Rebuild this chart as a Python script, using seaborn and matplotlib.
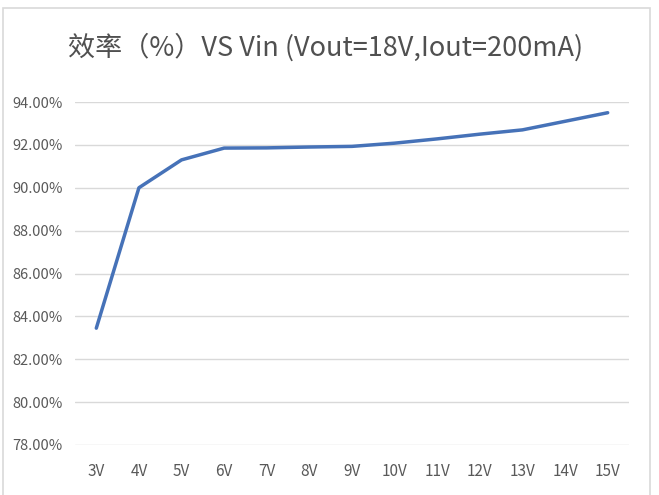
import matplotlib
matplotlib.use("Agg")
import matplotlib.pyplot as plt
from matplotlib.patches import Rectangle
from matplotlib.ticker import FuncFormatter
import seaborn as sns
import pandas as pd

# --- data ---
vin_labels = ["3V", "4V", "5V", "6V", "7V", "8V", "9V", "10V", "11V", "12V", "13V", "14V", "15V"]
efficiency = [83.45, 90.0, 91.3, 91.85, 91.86, 91.9, 91.93, 92.08, 92.28, 92.5, 92.7, 93.1, 93.5]
y_ticks = [78, 80, 82, 84, 86, 88, 90, 92, 94]

df = pd.DataFrame({"vin": vin_labels, "eff": efficiency})

sns.set_theme(style="white")
plt.rcParams["font.family"] = ["Noto Sans CJK SC", "DejaVu Sans"]

fig = plt.figure(figsize=(6.59, 4.95), dpi=100)
ax = fig.add_axes([75 / 659, 1 - 445 / 495, (629 - 75) / 659, (445 - 102) / 495])

sns.lineplot(data=df, x="vin", y="eff", ax=ax, color="#4672B8", linewidth=2.5, sort=False)

ax.set_xlim(-0.5, len(vin_labels) - 0.5)
ax.set_ylim(78, 94)
ax.set_yticks(y_ticks)
ax.yaxis.set_major_formatter(FuncFormatter(lambda v, _: f"{v:.2f}%"))
ax.grid(axis="y", color="#d9d9d9", linewidth=1.0)
ax.grid(axis="x", visible=False)
ax.set_axisbelow(True)
for s in ax.spines.values():
    s.set_visible(False)
ax.tick_params(axis="both", length=0, labelsize=10.5, labelcolor="#595959")
ax.tick_params(axis="x", pad=13, labelsize=11)
ax.tick_params(axis="y", pad=9)
ax.set_xlabel("")
ax.set_ylabel("")

fig.text(0.494, 1 - 47 / 495, "效率（%）VS Vin (Vout=18V,Iout=200mA)",
         ha="center", va="center", fontsize=19.5, color="#505050")

# outer chart frame
fig.patches.append(Rectangle((3 / 659, -0.02), (650 - 3) / 659, 1 - 8 / 495 + 0.02,
                             transform=fig.transFigure, fill=False,
                             edgecolor="#d9d9d9", linewidth=1.2))

fig.savefig("out.png", dpi=100)
